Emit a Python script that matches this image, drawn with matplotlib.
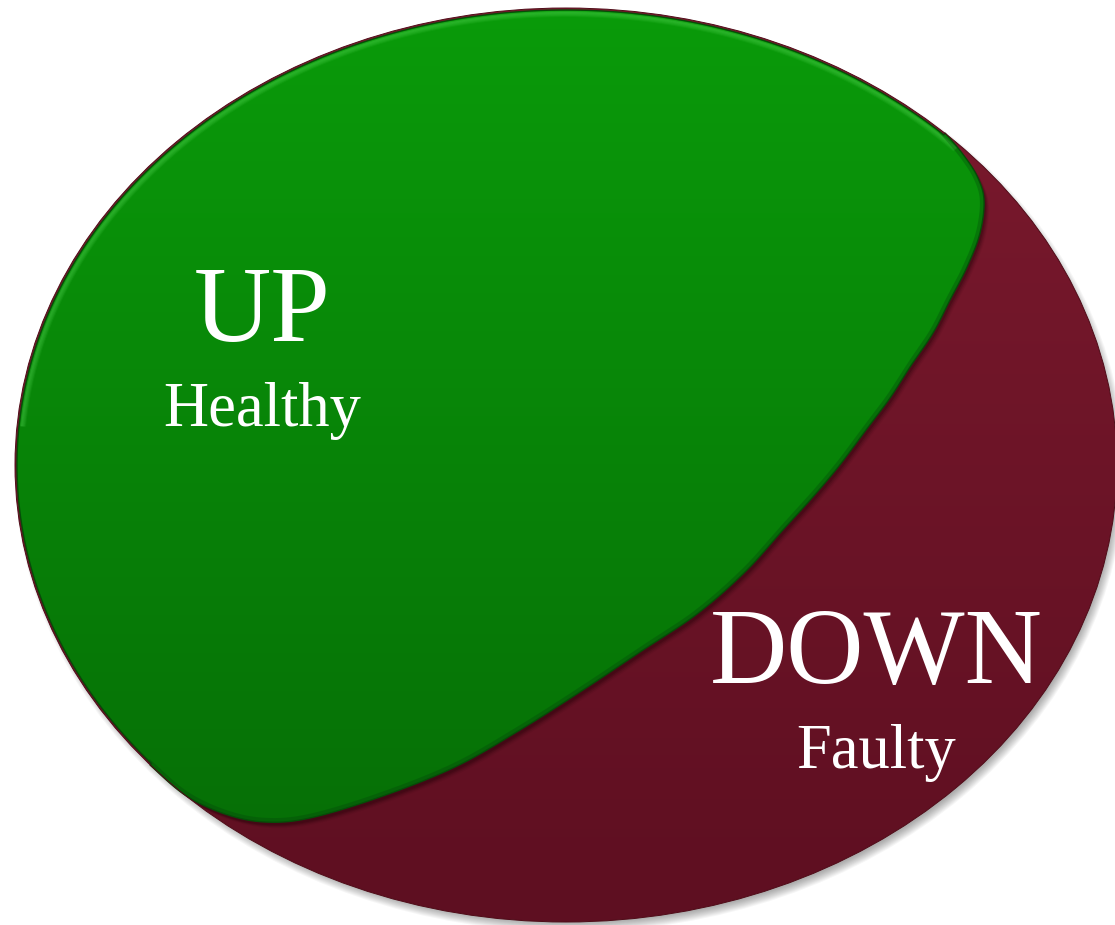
import numpy as np
import matplotlib
matplotlib.use("Agg")
import matplotlib.pyplot as plt
from matplotlib.patches import Ellipse, PathPatch
from matplotlib.path import Path

# ---- content ----
main_labels = ["UP", "DOWN"]
sub_labels = ["Healthy", "Faulty"]
label_pos = [(262, 341, 426), (876, 683, 768)]   # x centre, main baseline, sub baseline

# ---- geometry of the diagram (pixel space) ----
ell_center = (566, 465)
ell_radii = (551, 457)
join_angles_deg = (-46.5, -221.0)   # where the green region leaves the outer ellipse
boundary_x = [150, 185, 225, 265, 310, 380, 455, 520, 583, 640, 697, 745, 782, 812,
              839, 866, 890, 910, 933, 950, 967, 980, 984, 977, 962, 945]
boundary_y = [765, 795, 814, 822, 818, 797, 767, 730, 690, 652, 614, 572, 531, 498,
              466, 430, 398, 367, 333, 300, 267, 233, 200, 176, 153, 133]

red_top, red_bot = "#7c1a2e", "#5e0f21"
green_top, green_bot = "#0a9b0a", "#067006"

W, H = 1115, 925
fig = plt.figure(figsize=(W / 100, H / 100), dpi=100)
ax = fig.add_axes([0, 0, 1, 1])
ax.set_xlim(0, W)
ax.set_ylim(H, 0)
ax.axis("off")

cx, cy = ell_center
rx, ry = ell_radii


def ell_pts(t0, t1, n, drx=0.0, dry=0.0):
    t = np.radians(np.linspace(t0, t1, n))
    return np.column_stack([cx + (rx - drx) * np.cos(t), cy + (ry - dry) * np.sin(t)])


def catmull(pts, n=20):
    out = []
    P = np.vstack([pts[0], pts, pts[-1]])
    for i in range(1, len(P) - 2):
        p0, p1, p2, p3 = P[i - 1], P[i], P[i + 1], P[i + 2]
        s = np.linspace(0, 1, n, endpoint=False)[:, None]
        seg = 0.5 * ((2 * p1) + (-p0 + p2) * s + (2 * p0 - 5 * p1 + 4 * p2 - p3) * s ** 2
                     + (-p0 + 3 * p1 - 3 * p2 + p3) * s ** 3)
        out.append(seg)
    out.append(P[-2][None, :])
    return np.vstack(out)


def gradient_fill(patch, ctop, cbot, y0, y1):
    c1 = np.array(matplotlib.colors.to_rgb(ctop))
    c2 = np.array(matplotlib.colors.to_rgb(cbot))
    s = np.linspace(0, 1, 256)[:, None, None]
    img = c1 * (1 - s) + c2 * s
    im = ax.imshow(img, extent=(0, W, y1, y0), origin="upper", aspect="auto",
                   interpolation="bilinear", zorder=patch.get_zorder())
    im.set_clip_path(patch)


# drop shadow of the ellipse
for k in range(10):
    e = Ellipse((cx + 4, cy + 6), 2 * rx + 8 - 2 * k, 2 * ry + 8 - 2 * k,
                facecolor="black", edgecolor="none", alpha=0.035, zorder=1)
    ax.add_patch(e)

# red ellipse
red = Ellipse((cx, cy), 2 * rx, 2 * ry, facecolor="none", edgecolor="none", zorder=2)
ax.add_patch(red)
gradient_fill(red, red_top, red_bot, cy - ry, cy + ry)
ax.add_patch(Ellipse((cx, cy), 2 * rx, 2 * ry, facecolor="none", edgecolor="#4f0c18",
                     lw=0.7, zorder=6))

# green region
arc = ell_pts(join_angles_deg[0], join_angles_deg[1], 400, 2, 2)
bpts = np.column_stack([boundary_x, boundary_y]).astype(float)
spline = catmull(bpts, 25)
verts = np.vstack([arc, spline, arc[:1]])
codes = [Path.MOVETO] + [Path.LINETO] * (len(verts) - 2) + [Path.CLOSEPOLY]
gpath = Path(verts, codes)

# shadow of green region on red
for k, a in enumerate([0.18, 0.14, 0.10, 0.06]):
    sh = PathPatch(Path(verts + np.array([2 + k, 3 + k]), codes), facecolor="#1a0005",
                   edgecolor="none", alpha=a, zorder=3)
    ax.add_patch(sh)
    sh.set_clip_path(red)

green = PathPatch(gpath, facecolor="none", edgecolor="none", zorder=4)
ax.add_patch(green)
gradient_fill(green, green_top, green_bot, cy - ry, 825)

# bevel: light top highlight, darker inner edge along the dividing curve
for k, a in enumerate([0.10, 0.10, 0.08, 0.06, 0.04]):
    hl = ell_pts(join_angles_deg[0] + 2, -175, 300, 4 + k, 4 + k)
    l1, = ax.plot(hl[:, 0], hl[:, 1], color="#5fe05f", lw=1.5, alpha=a * 2, zorder=5,
                  solid_capstyle="round")
    l1.set_clip_path(green)
l2, = ax.plot(spline[:, 0], spline[:, 1], color="#03400a", lw=6, alpha=0.3, zorder=5)
l2.set_clip_path(green)
ax.add_patch(PathPatch(gpath, facecolor="none", edgecolor="#064d08", lw=1.0, zorder=5))

# labels
for (x, yb, ys), m, s in zip(label_pos, main_labels, sub_labels):
    ax.text(x, yb, m, ha="center", va="baseline", color="white", fontsize=77,
            family="Liberation Serif", zorder=8)
    ax.text(x, ys, s, ha="center", va="baseline", color="white", fontsize=45,
            family="Liberation Serif", zorder=8)

fig.savefig("out.png", dpi=100, facecolor="white")
